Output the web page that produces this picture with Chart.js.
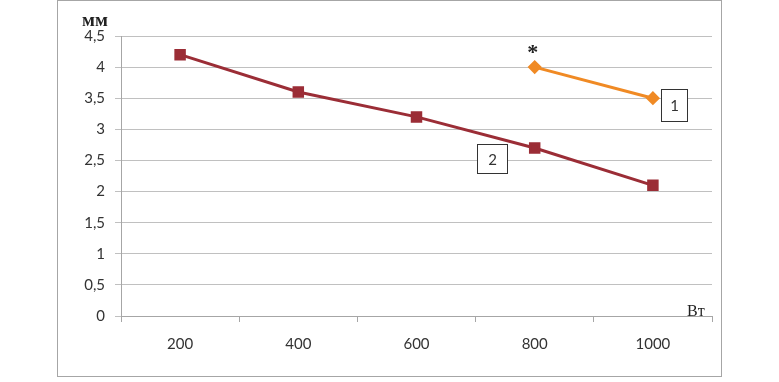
<!DOCTYPE html>
<html><head><meta charset="utf-8">
<script src="https://cdn.jsdelivr.net/npm/chart.js@4/dist/chart.umd.min.js"></script>
<style>
html,body{margin:0;padding:0;background:#fff;}
#wrap{position:relative;width:779px;height:382px;}
#frame{position:absolute;left:57px;top:0px;width:665px;height:377px;border:1px solid #a6a6a6;box-sizing:border-box;}
canvas{position:absolute;left:0;top:0;}
</style>
</head><body>
<div id="wrap"><div id="frame"></div><canvas id="c" width="779" height="382"></canvas></div>
<script>
const categories = ['200','400','600','800','1000'];
const series2 = [4.2, 3.6, 3.2, 2.7, 2.1];
const series1 = [null, null, null, 4.0, 3.5];
const yTicks = [0,0.5,1,1.5,2,2.5,3,3.5,4,4.5];
const yUnit = 'мм';
const xUnit = 'Вт';
const label1 = '1';
const label2 = '2';
const starMark = '*';

const annot = {
  id:'annot',
  afterDraw(chart){
    const ctx = chart.ctx, xs = chart.scales.x, ys = chart.scales.y;
    ctx.save();
    ctx.fillStyle = '#222';
    ctx.font = 'bold 19px "Liberation Serif"';
    ctx.textAlign = 'left'; ctx.textBaseline = 'alphabetic';
    ctx.fillText(yUnit, 82, 26);
    ctx.font = '16px "Liberation Serif"';
    ctx.fillText(xUnit, 687, 316);
    const sx = xs.getPixelForValue(3), sy = ys.getPixelForValue(4.0);
    ctx.font = 'bold 22px "Liberation Serif"';
    ctx.textAlign = 'center';
    ctx.fillText(starMark, sx - 2, sy - 8);
    ctx.strokeStyle = '#333'; ctx.lineWidth = 1;
    ctx.fillStyle = '#fff';
    const p1x = xs.getPixelForValue(4), p1y = ys.getPixelForValue(3.5);
    const b1 = [Math.round(p1x+8)+0.5, Math.round(p1y-9)+0.5, 26, 32];
    ctx.fillRect(b1[0],b1[1],b1[2],b1[3]); ctx.strokeRect(b1[0],b1[1],b1[2],b1[3]);
    const p2x = xs.getPixelForValue(3), p2y = ys.getPixelForValue(2.7);
    const b2 = [Math.round(p2x-58)+0.5, Math.round(p2y-4)+0.5, 30, 29];
    ctx.fillRect(b2[0],b2[1],b2[2],b2[3]); ctx.strokeRect(b2[0],b2[1],b2[2],b2[3]);
    ctx.fillStyle = '#333';
    ctx.font = '15px Lato';
    ctx.textBaseline = 'middle';
    ctx.fillText(label1, b1[0]+b1[2]/2, b1[1]+b1[3]/2+1);
    ctx.fillText(label2, b2[0]+b2[2]/2, b2[1]+b2[3]/2+1);
    ctx.restore();
  }
};

new Chart(document.getElementById('c'), {
  type:'line',
  data:{
    labels: categories,
    datasets:[
      {data: series2, borderColor:'#9B2D36', backgroundColor:'#9B2D36', borderWidth:3,
       pointStyle:'rect', pointRadius:6, pointHoverRadius:6, tension:0},
      {data: series1, borderColor:'#F08A24', backgroundColor:'#F08A24', borderWidth:3,
       pointStyle:'rectRot', pointRadius:5, pointHoverRadius:5, tension:0, spanGaps:false}
    ]
  },
  options:{
    responsive:false, animation:false, devicePixelRatio:1,
    layout:{padding:{left:0,right:67,top:36,bottom:0}},
    plugins:{legend:{display:false}, tooltip:{enabled:false}},
    scales:{
      x:{
        offset:true,
        grid:{offset:true, drawOnChartArea:false, drawTicks:true, tickLength:6, color:'#a6a6a6'},
        border:{display:true, color:'#a6a6a6', width:1},
        ticks:{color:'#333', font:{family:'Lato', size:15}, padding:13, maxRotation:0},
        afterFit(s){ s.height = 66; }
      },
      y:{
        min:0, max:4.5,
        afterBuildTicks(s){ s.ticks = yTicks.map(v=>({value:v})); },
        grid:{color:'#c0c0c0', tickLength:6, drawTicks:true},
        border:{display:true, color:'#a6a6a6'},
        ticks:{color:'#333', font:{family:'Lato', size:15}, padding:10,
          callback:(v)=>String(v).replace('.',',')},
        afterFit(s){ s.width = 121; }
      }
    }
  },
  plugins:[annot]
});
</script>
</body></html>
